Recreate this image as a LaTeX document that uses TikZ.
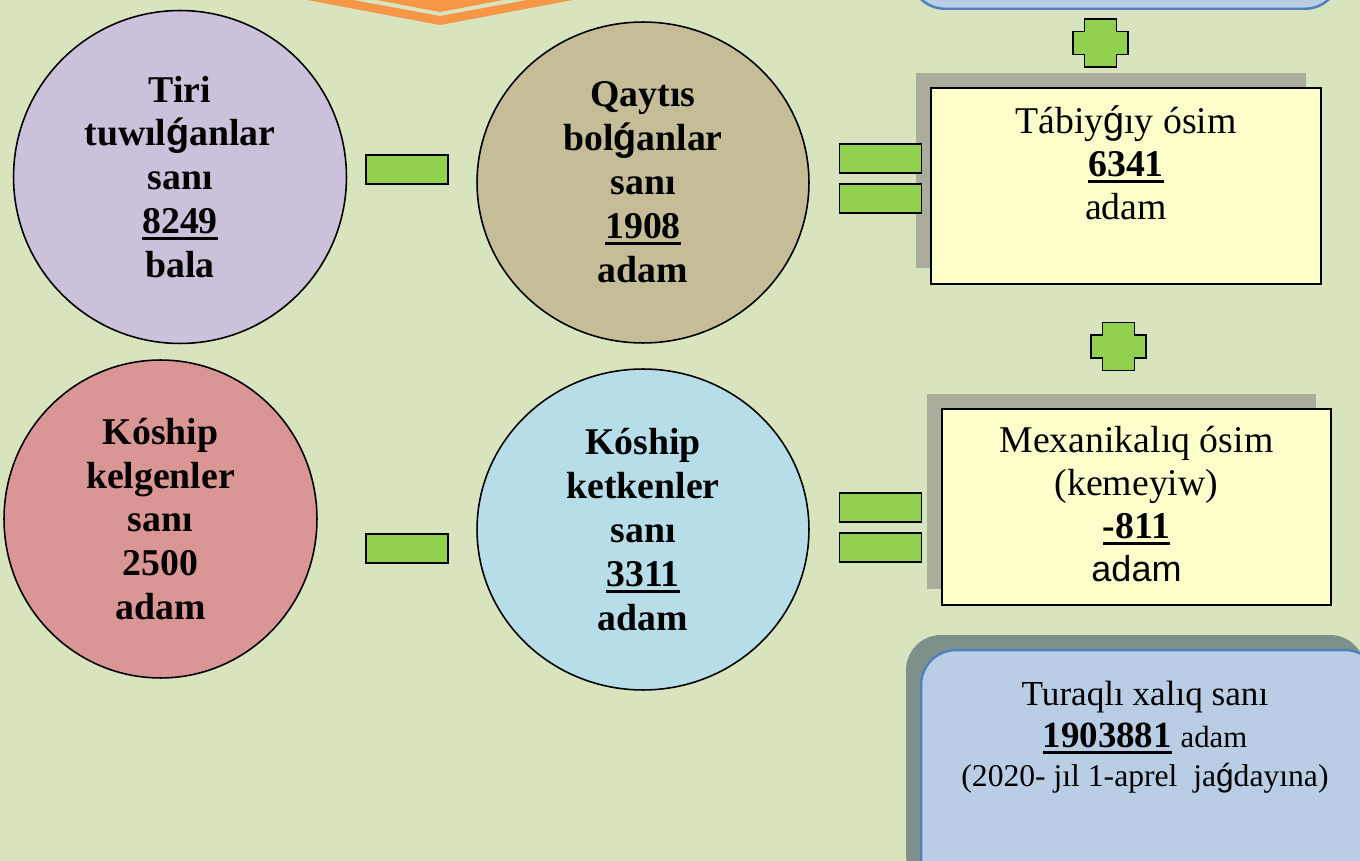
\documentclass[tikz,border=0pt]{standalone}
\usepackage{fontspec}
\setmainfont{Liberation Serif}
\newfontfamily\sansfam{Liberation Sans}
\usepackage{tikz}
\usetikzlibrary{shapes.geometric,positioning,shadows}
\definecolor{bgcolor}{RGB}{215,228,189}
\definecolor{chevroncolor}{RGB}{247,150,70}
\definecolor{birthcolor}{RGB}{204,193,218}
\definecolor{returncolor}{RGB}{196,189,151}
\definecolor{incolor}{RGB}{217,150,148}
\definecolor{outcolor}{RGB}{183,222,232}
\definecolor{signcolor}{RGB}{146,208,80}
\definecolor{boxcolor}{RGB}{255,255,204}
\definecolor{boxshade}{RGB}{170,173,156}
\definecolor{totalcolor}{RGB}{185,205,229}
\definecolor{totalborder}{RGB}{79,129,189}
\definecolor{totalshade}{RGB}{126,144,138}

\newcommand{\gacute}{{\sansfam ǵ}}
\newcommand{\undl}[1]{\vtop{\hbox{#1}\kern1.8pt\hrule height1.7pt}}
\newcommand{\plusat}[1]{\draw[plusmark, shift={(#1)}] (-16,-24) -- (16,-24) -- (16,-11.5) -- (27.5,-11.5) -- (27.5,11.5) -- (16,11.5) -- (16,24) -- (-16,24) -- (-16,11.5) -- (-27.5,11.5) -- (-27.5,-11.5) -- (-16,-11.5) -- cycle;}

\begin{document}
\begin{tikzpicture}[x=0.02cm, y=-0.02cm,
    ring/.style={ellipse, draw, line width=0.9pt, align=center, inner sep=0pt, font=\fontsize{21.5}{25}\selectfont\bfseries},
    minusbar/.style={rectangle, draw, line width=1pt, fill=signcolor, minimum width=1.64cm, minimum height=0.58cm, inner sep=0pt},
    plusmark/.style={draw, line width=1pt, fill=signcolor},
    resultbox/.style={rectangle, draw, line width=1pt, fill=boxcolor, minimum height=3.92cm, general shadow={fill=boxshade, shadow xshift=-0.3cm, shadow yshift=0.31cm}},
    totalbox/.style={rectangle, rounded corners=0.7cm, draw=totalborder, line width=1.4pt, fill=totalcolor},
    boxtext/.style={align=center, inner sep=0pt, font=\fontsize{21.5}{24.5}\selectfont}
]
    \useasboundingbox (0,0) rectangle (1360,861);
    \clip (0,0) rectangle (1360,861);
    \fill[bgcolor] (0,0) rectangle (1360,861);

    % chevron at the top
    \fill[chevroncolor] (307,0) -- (440,25) -- (573,0) -- (527,0) -- (440,16) -- (353,0) -- cycle;
    \fill[chevroncolor] (377,0) -- (440,12) -- (503,0) -- cycle;

    \node[totalbox, minimum width=8.6cm, minimum height=4cm, anchor=south] (prevbox) at (1125,10) {};

    % the four groups
    \node[ring, fill=birthcolor, minimum width=6.66cm, minimum height=6.66cm] (births) at (180,177) {Tiri\\tuwıl\gacute anlar\\sanı\\\undl{8249}\\bala};
    \node[ring, fill=returncolor, minimum width=6.64cm, minimum height=6.42cm] (returned) at (643,182.5) {Qaytıs\\bol\gacute anlar\\sanı\\\undl{1908}\\adam};
    \node[ring, fill=incolor, minimum width=6.26cm, minimum height=6.36cm] (arrived) at (160.5,519) {Kóship\\kelgenler\\sanı\\2500\\adam};
    \node[ring, fill=outcolor, minimum width=6.64cm, minimum height=6.42cm] (departed) at (643,529.5) {Kóship\\ketkenler\\sanı\\\undl{3311}\\adam};

    \node[minusbar] (minustop) at (407,169.5) {};
    \node[minusbar] (minusbottom) at (407,548.5) {};

    % results
    \node[resultbox, minimum width=7.8cm] (natural) at (1126,186) {};
    \node[boxtext, below=0.36cm of natural.north] (naturaltext) {Tábiy\gacute ıy ósim\\\undl{\textbf{6341}}\\adam};
    \node[resultbox, minimum width=7.78cm] (mechanical) at (1136.5,507) {};
    \node[boxtext, below=0.36cm of mechanical.north] (mechanicaltext) {Mexanikalıq ósim\\(kemeyiw)\\\undl{\textbf{-811}}\\{\sansfam\fontsize{20.5}{24.5}\selectfont adam}};

    \node[minusbar] (eqtopupper) at (880.5,158.5) {};
    \node[minusbar] (eqtoplower) at (880.5,198.5) {};
    \node[minusbar] (eqbotupper) at (880.5,507.5) {};
    \node[minusbar] (eqbotlower) at (880.5,547.5) {};

    \coordinate (plustop) at (1100.5,43);
    \coordinate (plusmid) at (1118.5,346.5);
    \plusat{plustop}
    \plusat{plusmid}

    \node[totalbox, minimum width=9.18cm, minimum height=5.1cm, general shadow={fill=totalshade, draw=none, shadow xshift=-0.3cm, shadow yshift=0.3cm}] (total) at (1150.5,777.5) {};
    \node[boxtext, anchor=north, font=\fontsize{20}{24}\selectfont] (totaltext) at (1145,681) {Turaqlı xalıq sanı\\\undl{\fontsize{21}{24}\selectfont\bfseries 1903881} {\fontsize{17.5}{24}\selectfont adam}\\[-2pt]{\fontsize{18}{24}\selectfont (2020- jıl 1-aprel \ ja\gacute dayına)}};
\end{tikzpicture}
\end{document}
